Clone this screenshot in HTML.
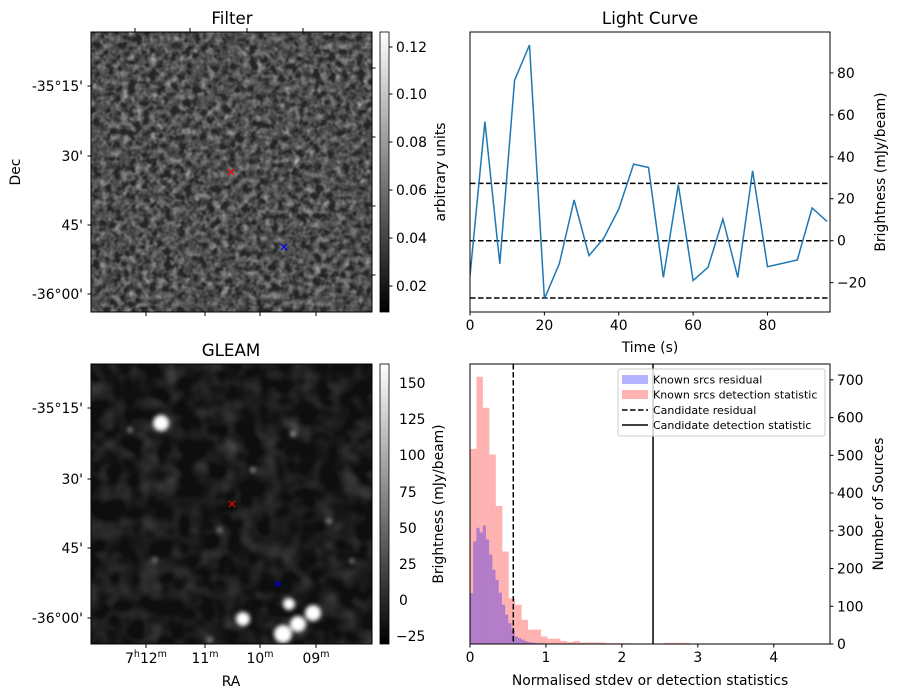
<!DOCTYPE html>
<html><head><meta charset="utf-8"><style>
html,body{margin:0;padding:0;background:#fff}
svg{display:block;font-family:"DejaVu Sans","Liberation Sans",sans-serif}
</style></head><body>
<svg id="fig" width="898" height="699" viewBox="0 0 898 699" xmlns="http://www.w3.org/2000/svg">
<defs>
<filter id="noise" x="0" y="0" width="100%" height="100%">
<feTurbulence type="fractalNoise" baseFrequency="0.14" numOctaves="2" seed="7"/>
<feColorMatrix type="matrix" values="0 0 0 0 0  0 0 0 0 0  0 0 0 0 0  0.33 0.33 0.33 0 0"/>
<feComponentTransfer><feFuncA type="linear" slope="1.9" intercept="-0.72"/></feComponentTransfer>
<feColorMatrix type="matrix" values="0 0 0 0 0.68  0 0 0 0 0.68  0 0 0 0 0.68  0 0 0 1 0"/>
</filter>
<filter id="noise2" x="0" y="0" width="100%" height="100%">
<feTurbulence type="fractalNoise" baseFrequency="0.05" numOctaves="2" seed="3"/>
<feColorMatrix type="matrix" values="0 0 0 0 0  0 0 0 0 0  0 0 0 0 0  0.33 0.33 0.33 0 0"/>
<feComponentTransfer><feFuncA type="linear" slope="0.9" intercept="-0.38"/></feComponentTransfer>
<feColorMatrix type="matrix" values="0 0 0 0 0.5  0 0 0 0 0.5  0 0 0 0 0.5  0 0 0 1 0"/>
</filter>
<filter id="blur"><feGaussianBlur stdDeviation="2"/></filter>
<linearGradient id="cb" x1="0" y1="1" x2="0" y2="0"><stop offset="0" stop-color="#000"/><stop offset="1" stop-color="#fff"/></linearGradient>
</defs>

<g>
<text x="232" y="24" font-size="16.7" text-anchor="middle">Filter</text>
<rect x="91" y="32" width="281" height="280" fill="#262626"/>
<rect x="91" y="32" width="281" height="280" filter="url(#noise)"/>
<rect x="91" y="32" width="281" height="280" fill="none" stroke="#000"/>
<path d="M228,169l6,6M234,169l-6,6" stroke="red" stroke-width="1.2"/>
<path d="M281,244l6,6M287,244l-6,6" stroke="blue" stroke-width="1.2"/>
<g stroke="#000">
<line x1="87.5" x2="91" y1="86" y2="86"/><line x1="87.5" x2="91" y1="156" y2="156"/><line x1="87.5" x2="91" y1="225" y2="225"/><line x1="87.5" x2="91" y1="294" y2="294"/>
<line x1="372" x2="375.5" y1="68" y2="68"/><line x1="372" x2="375.5" y1="137" y2="137"/><line x1="372" x2="375.5" y1="206" y2="206"/><line x1="372" x2="375.5" y1="275" y2="275"/>
</g>
<g font-size="13.9" text-anchor="end">
<text x="83" y="91">-35°15'</text><text x="83" y="161">30'</text><text x="83" y="230">45'</text><text x="83" y="299">-36°00'</text>
</g>
<g stroke="#000">
<line x1="135" x2="135" y1="28" y2="32"/><line x1="190" x2="190" y1="28" y2="32"/><line x1="247" x2="247" y1="28" y2="32"/><line x1="303" x2="303" y1="28" y2="32"/>
<line x1="146" x2="146" y1="312" y2="316"/><line x1="205" x2="205" y1="312" y2="316"/><line x1="260" x2="260" y1="312" y2="316"/><line x1="316" x2="316" y1="312" y2="316"/>
</g>
<text transform="translate(20,172) rotate(-90)" font-size="13.9" text-anchor="middle">Dec</text>
<rect x="380" y="32" width="9" height="280" fill="url(#cb)" stroke="#000" stroke-width="0.8"/>
<g stroke="#000">
<line x1="389" x2="392.5" y1="286" y2="286"/><line x1="389" x2="392.5" y1="238" y2="238"/><line x1="389" x2="392.5" y1="190" y2="190"/><line x1="389" x2="392.5" y1="142" y2="142"/><line x1="389" x2="392.5" y1="94" y2="94"/><line x1="389" x2="392.5" y1="47" y2="47"/>
</g>
<g font-size="13.9">
<text x="396" y="291">0.02</text><text x="396" y="243">0.04</text><text x="396" y="195">0.06</text><text x="396" y="147">0.08</text><text x="396" y="99">0.10</text><text x="396" y="52">0.12</text>
</g>
<text transform="translate(445,172) rotate(-90)" font-size="13.9" text-anchor="middle">arbitrary units</text>
</g>

<g>
<text x="231" y="356" font-size="16.7" text-anchor="middle">GLEAM</text>
<rect x="91" y="364" width="281" height="280" fill="#0e0e0e"/>
<rect x="91" y="364" width="281" height="280" filter="url(#noise2)"/>
<g fill="#fff" filter="url(#blur)">
<circle cx="161" cy="423" r="8"/><circle cx="243" cy="619" r="7"/><circle cx="289" cy="604" r="6"/>
<circle cx="283" cy="634" r="9"/><circle cx="298" cy="624" r="8"/><circle cx="313" cy="613" r="8"/>
<circle cx="130" cy="430" r="3" fill="#888"/><circle cx="293" cy="434" r="3" fill="#999"/><circle cx="253" cy="470" r="3" fill="#888"/>
<circle cx="220" cy="530" r="3" fill="#777"/><circle cx="329" cy="521" r="3" fill="#888"/><circle cx="155" cy="560" r="3" fill="#777"/>
<circle cx="210" cy="640" r="3" fill="#888"/><circle cx="352" cy="561" r="3" fill="#777"/>
</g>
<rect x="91" y="364" width="281" height="280" fill="none" stroke="#000"/>
<path d="M229,501l6,6M235,501l-6,6" stroke="red" stroke-width="1.2"/>
<path d="M275,581l6,6M281,581l-6,6" stroke="blue" stroke-width="1.2"/>
<g stroke="#000">
<line x1="87.5" x2="91" y1="408" y2="408"/><line x1="87.5" x2="91" y1="479" y2="479"/><line x1="87.5" x2="91" y1="548" y2="548"/><line x1="87.5" x2="91" y1="618" y2="618"/>
</g>
<g font-size="13.9" text-anchor="end">
<text x="83" y="413">-35°15'</text><text x="83" y="484">30'</text><text x="83" y="553">45'</text><text x="83" y="623">-36°00'</text>
</g>
<g stroke="#000">
<line x1="146" x2="146" y1="644" y2="648"/><line x1="205" x2="205" y1="644" y2="648"/><line x1="260" x2="260" y1="644" y2="648"/><line x1="316" x2="316" y1="644" y2="648"/>
</g>
<g font-size="13.9" text-anchor="middle">
<text x="146" y="663">7<tspan font-size="9.5" dy="-6">h</tspan><tspan dy="6">12</tspan><tspan font-size="9.5" dy="-6">m</tspan></text>
<text x="205" y="663">11<tspan font-size="9.5" dy="-6">m</tspan></text>
<text x="260" y="663">10<tspan font-size="9.5" dy="-6">m</tspan></text>
<text x="316" y="663">09<tspan font-size="9.5" dy="-6">m</tspan></text>
</g>
<text x="231" y="686" font-size="13.9" text-anchor="middle">RA</text>
<rect x="380" y="364" width="9" height="280" fill="url(#cb)" stroke="#000" stroke-width="0.8"/>
<g font-size="13.9">
<text x="399" y="388">150</text><text x="399" y="424">125</text><text x="399" y="460">100</text><text x="399" y="497">75</text><text x="399" y="533">50</text><text x="399" y="569">25</text><text x="399" y="605">0</text><text x="396" y="641">−25</text>
</g>
</g>

<g id="lc">
<text x="650" y="24" font-size="16.7" text-anchor="middle">Light Curve</text>
<text x="650" y="352" font-size="13.9" text-anchor="middle">Time (s)</text>
<text transform="translate(885,172) rotate(-90)" font-size="13.9" text-anchor="middle">Brightness (mJy/beam)</text>
</g>
<g id="hist">
<text x="650" y="685" font-size="13.9" text-anchor="middle">Normalised stdev or detection statistics</text>
<text transform="translate(443,504) rotate(-90)" font-size="13.9" text-anchor="middle">Brightness (mJy/beam)</text>
<text transform="translate(883,504) rotate(-90)" font-size="13.9" text-anchor="middle">Number of Sources</text>
</g>
</svg>
<script>
const lcTimes=[0,4,8,12,16,20,24,28,32,36,40,44,48,52,56,60,64,68,72,76,80,88,92,96];
const lcValues=[-16.7,56.8,-11,76.5,93.3,-27.7,-11,19.4,-7.1,1.3,15.1,36.5,34.9,-17.5,26.7,-19,-12.7,10.3,-17.5,33.3,-12.4,-9.2,15.6,9.2];
const lcThresholds=[27.3,0,-27.3];
const lcXTicks=[0,20,40,60,80];
const lcYTicks=[-20,0,20,40,60,80];
const redBinWidth=0.085;
const redCounts=[517,708,626,502,366,245,121,104,64,38,38,20,14,14,8,5,8,4,4,4,4,2,2,2,2,0,0,0,0,1,3,3,3,3,0,0,0,0,0,0,0,0,0,0,1,0,0,0,0,0,0,0,0,1];
const blueBinWidth=0.042;
const blueCounts=[135,272,308,296,314,277,237,197,170,136,104,78,55,38,20,16,12,8,5,4,3,2,2,1,1,1];
const candResidual=0.57;
const candDetection=2.41;
const histXTicks=[0,1,2,3,4];
const histYTicks=[0,100,200,300,400,500,600,700];

const NS='http://www.w3.org/2000/svg';
function mk(tag,attrs,parent){const e=document.createElementNS(NS,tag);for(const k in attrs)e.setAttribute(k,attrs[k]);parent.appendChild(e);return e;}
const lc=document.getElementById('lc'),hist=document.getElementById('hist');
const FS=13.9;

const L={x0:470,x1:830,y0:32,y1:312,tmin:0,tmax:96.8,vmin:-34,vmax:99.5};
const lx=t=>L.x0+(t-L.tmin)/(L.tmax-L.tmin)*(L.x1-L.x0);
const ly=v=>L.y1-(v-L.vmin)/(L.vmax-L.vmin)*(L.y1-L.y0);
let d=lcTimes.map((t,i)=>(i?'L':'M')+lx(t).toFixed(1)+','+ly(lcValues[i]).toFixed(1)).join('');
const cp=mk('clipPath',{id:'lcclip'},lc);mk('rect',{x:L.x0,y:L.y0,width:L.x1-L.x0,height:L.y1-L.y0},cp);
lcThresholds.forEach(v=>{const e=mk('line',{x1:L.x0,x2:L.x1,y1:ly(v),y2:ly(v),stroke:'#000','stroke-width':1.5,'stroke-dasharray':'5.5,2.5'},lc);

});
const line=mk('path',{d:d,fill:'none',stroke:'#1f77b4','stroke-width':1.5,'clip-path':'url(#lcclip)'},lc);


mk('rect',{x:L.x0,y:L.y0,width:L.x1-L.x0,height:L.y1-L.y0,fill:'none',stroke:'#000'},lc);
lcXTicks.forEach(t=>{mk('line',{x1:lx(t),x2:lx(t),y1:L.y1,y2:L.y1+3.5,stroke:'#000'},lc);
const e=mk('text',{x:lx(t),y:L.y1+18,'font-size':FS,'text-anchor':'middle'},lc);e.textContent=t;

});
lcYTicks.forEach(v=>{mk('line',{x1:L.x1,x2:L.x1+3.5,y1:ly(v),y2:ly(v),stroke:'#000'},lc);
const e=mk('text',{x:L.x1+7,y:ly(v)+5,'font-size':FS},lc);e.textContent=v<0?'−'+(-v):v;

});

const H={x0:470,x1:830,y0:364,y1:644,xmin:0,xmax:4.74,cmax:742};
const hx=v=>H.x0+(v-H.xmin)/(H.xmax-H.xmin)*(H.x1-H.x0);
const hy=c=>H.y1-c/H.cmax*(H.y1-H.y0);
redCounts.forEach((c,i)=>{if(!c)return;const a=hx(i*redBinWidth),b=hx((i+1)*redBinWidth);
const e=mk('rect',{x:a,y:hy(c),width:b-a,height:H.y1-hy(c),fill:'#ff0000','fill-opacity':0.3},hist);

});
blueCounts.forEach((c,i)=>{if(!c)return;const a=hx(i*blueBinWidth),b=hx((i+1)*blueBinWidth);
const e=mk('rect',{x:a,y:hy(c),width:b-a,height:H.y1-hy(c),fill:'#0000ff','fill-opacity':0.3},hist);

});
let e1=mk('line',{x1:hx(candResidual),x2:hx(candResidual),y1:H.y0,y2:H.y1,stroke:'#000','stroke-width':1.5,'stroke-dasharray':'5.5,2.5'},hist);


let e2=mk('line',{x1:hx(candDetection),x2:hx(candDetection),y1:H.y0,y2:H.y1,stroke:'#000','stroke-width':1.5},hist);


mk('rect',{x:H.x0,y:H.y0,width:H.x1-H.x0,height:H.y1-H.y0,fill:'none',stroke:'#000'},hist);
histXTicks.forEach(v=>{mk('line',{x1:hx(v),x2:hx(v),y1:H.y1,y2:H.y1+3.5,stroke:'#000'},hist);
const e=mk('text',{x:hx(v),y:H.y1+18,'font-size':FS,'text-anchor':'middle'},hist);e.textContent=v;

});
histYTicks.forEach(c=>{mk('line',{x1:H.x1,x2:H.x1+3.5,y1:hy(c),y2:hy(c),stroke:'#000'},hist);
const e=mk('text',{x:H.x1+7,y:hy(c)+5,'font-size':FS},hist);e.textContent=c;

});
const lg=mk('g',{},hist);


mk('rect',{x:618,y:369,width:207,height:67,rx:2,fill:'#fff','fill-opacity':0.8,stroke:'#ccc'},lg);
mk('rect',{x:622,y:375,width:26,height:9,fill:'#b3b3ff'},lg);
mk('rect',{x:622,y:390,width:26,height:9,fill:'#ffb3b3'},lg);
mk('line',{x1:622,x2:648,y1:410,y2:410,stroke:'#000','stroke-width':1.5,'stroke-dasharray':'5.5,2.5'},lg);
mk('line',{x1:622,x2:648,y1:425,y2:425,stroke:'#000','stroke-width':1.5},lg);
['Known srcs residual','Known srcs detection statistic','Candidate residual','Candidate detection statistic'].forEach((s,i)=>{
const t=mk('text',{x:653,y:383.5+i*15.2,'font-size':11},lg);t.textContent=s;

});
</script>
</body></html>
